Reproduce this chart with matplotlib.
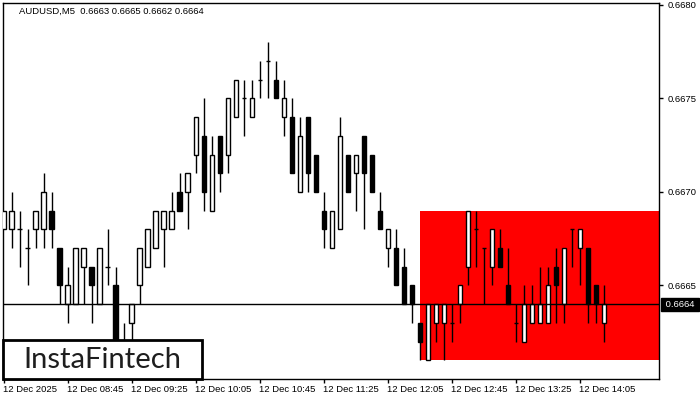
import numpy as np
import matplotlib
matplotlib.use("Agg")
from matplotlib import pyplot as plt
from matplotlib.patches import Rectangle
import matplotlib.transforms as mtransforms

# AUDUSD M5 candles, 08:05 .. 14:20
opens = [0.6668, 0.6668, 0.6668, 0.6667, 0.6668, 0.6668, 0.6669, 0.6667, 0.6664, 0.6664,
         0.6666, 0.6666, 0.6664, 0.6666, 0.6665, 0.6661, 0.6663, 0.6665, 0.6666, 0.6667,
         0.6668, 0.6668, 0.6670, 0.6670, 0.6672, 0.6673, 0.6669, 0.6673, 0.6672, 0.6674,
         0.6675, 0.6674, 0.6676, 0.6677, 0.6676, 0.6674, 0.6674, 0.6670, 0.6674, 0.6672,
         0.6669, 0.6667, 0.6668, 0.6672, 0.6671, 0.6673, 0.6672, 0.6669, 0.6667, 0.6667,
         0.6666, 0.6665, 0.6663, 0.6661, 0.6663, 0.6663, 0.6663, 0.6664, 0.6666, 0.6668,
         0.6667, 0.6666, 0.6667, 0.6665, 0.6663, 0.6662, 0.6663, 0.6663, 0.6663, 0.6666,
         0.6664, 0.6668, 0.6667, 0.6667, 0.6665, 0.6663]
closes = [0.6669, 0.6669, 0.6668, 0.6667, 0.6669, 0.6670, 0.6668, 0.6665, 0.6665, 0.6667,
          0.6667, 0.6665, 0.6667, 0.6666, 0.6662, 0.6660, 0.6664, 0.6667, 0.6668, 0.6669,
          0.6669, 0.6669, 0.6669, 0.6671, 0.6674, 0.6670, 0.6672, 0.6671, 0.6675, 0.6676,
          0.6675, 0.6675, 0.6676, 0.6677, 0.6675, 0.6675, 0.6671, 0.6673, 0.6671, 0.6670,
          0.6668, 0.6669, 0.6673, 0.6670, 0.6672, 0.6671, 0.6670, 0.6668, 0.6668, 0.6665,
          0.6664, 0.6664, 0.6662, 0.6664, 0.6664, 0.6664, 0.6663, 0.6665, 0.6669, 0.6668,
          0.6667, 0.6668, 0.6666, 0.6664, 0.6663, 0.6664, 0.6664, 0.6664, 0.6665, 0.6665,
          0.6667, 0.6668, 0.6668, 0.6664, 0.6664, 0.6664]
highs = [0.6669, 0.6670, 0.6669, 0.6668, 0.6669, 0.6671, 0.6670, 0.6667, 0.6666, 0.6667,
         0.6667, 0.6666, 0.6667, 0.6668, 0.6666, 0.6663, 0.6664, 0.6667, 0.6668, 0.6669,
         0.6669, 0.6670, 0.6671, 0.6671, 0.6674, 0.6675, 0.6673, 0.6673, 0.6675, 0.6676,
         0.6676, 0.6676, 0.6677, 0.6678, 0.6677, 0.6676, 0.6675, 0.6674, 0.6674, 0.6672,
         0.6670, 0.6669, 0.6674, 0.6672, 0.6672, 0.6673, 0.6672, 0.6670, 0.6668, 0.6668,
         0.6667, 0.6665, 0.6663, 0.6664, 0.6664, 0.6664, 0.6664, 0.6665, 0.6669, 0.6669,
         0.6667, 0.6668, 0.6668, 0.6667, 0.6664, 0.6665, 0.6665, 0.6666, 0.6666, 0.6667,
         0.6667, 0.6668, 0.6668, 0.6667, 0.6665, 0.6665]
lows = [0.6668, 0.6667, 0.6666, 0.6665, 0.6667, 0.6667, 0.6667, 0.6664, 0.6663, 0.6664,
        0.6664, 0.6663, 0.6664, 0.6665, 0.6661, 0.6660, 0.6661, 0.6664, 0.6666, 0.6667,
        0.6666, 0.6668, 0.6669, 0.6668, 0.6671, 0.6669, 0.6669, 0.6670, 0.6671, 0.6674,
        0.6673, 0.6674, 0.6675, 0.6675, 0.6675, 0.6673, 0.6671, 0.6670, 0.6670, 0.6670,
        0.6667, 0.6667, 0.6668, 0.6670, 0.6669, 0.6668, 0.6670, 0.6668, 0.6666, 0.6665,
        0.6664, 0.6663, 0.6661, 0.6661, 0.6662, 0.6661, 0.6662, 0.6663, 0.6665, 0.6666,
        0.6664, 0.6665, 0.6666, 0.6664, 0.6662, 0.6662, 0.6663, 0.6663, 0.6663, 0.6663,
        0.6663, 0.6666, 0.6665, 0.6663, 0.6663, 0.6662]

tick_pos = [0, 8, 16, 24, 32, 40, 48, 56, 64, 72]
tick_labels = ["12 Dec 2025", "12 Dec 08:45", "12 Dec 09:25", "12 Dec 10:05", "12 Dec 10:45",
               "12 Dec 11:25", "12 Dec 12:05", "12 Dec 12:45", "12 Dec 13:25", "12 Dec 14:05"]
price_ticks = [0.6665, 0.6670, 0.6675, 0.6680]

zone_start = 52
zone_low, zone_high = 0.6661, 0.6669
last_price = 0.6664
title = "AUDUSD,M5  0.6663 0.6665 0.6662 0.6664"

plt.rcParams['font.family'] = ['Liberation Sans', 'DejaVu Sans']
fs = 6.8

fig = plt.figure(figsize=(7, 4), dpi=100)
ax = fig.add_axes([2.7 / 700, 21 / 400, (659 - 2.7) / 700, 376 / 400])

x = np.arange(len(opens))
o = np.array(opens); c = np.array(closes); h = np.array(highs); l = np.array(lows)
xmax = 81.9

# red zone
ax.add_patch(Rectangle((zone_start, zone_low), xmax - zone_start + 1, zone_high - zone_low,
                       facecolor="#ff0000", edgecolor="none", zorder=1))

# candles
w = 0.55
ax.vlines(x, l, h, color="black", lw=1, zorder=2)
up = c > o + 1e-9
dn = c < o - 1e-9
dj = ~(up | dn)
ax.bar(x[up], c[up] - o[up], bottom=o[up], width=w, facecolor="white",
       edgecolor="black", lw=1, zorder=3)
ax.bar(x[dn], o[dn] - c[dn], bottom=c[dn], width=w, facecolor="black",
       edgecolor="black", lw=1, zorder=3)
ax.hlines(o[dj], x[dj] - w / 2, x[dj] + w / 2, color="black", lw=1, zorder=3)

ax.axhline(last_price, color="black", lw=1, zorder=4)

ax.set_xlim(-0.12, xmax)
ax.set_ylim(0.66600, 0.66801)

ax.set_xticks(tick_pos)
ax.set_xticklabels(tick_labels, ha="left", fontsize=fs)
ax.tick_params(axis="x", direction="out", length=3, pad=1, width=1)
for lab in ax.get_xticklabels():
    lab.set_transform(lab.get_transform() + mtransforms.ScaledTranslation(-1 / 100, 0, fig.dpi_scale_trans))

ax.yaxis.tick_right()
ax.set_yticks(price_ticks)
ax.set_yticklabels([f"{p:.4f}" for p in price_ticks], fontsize=fs)
ax.tick_params(axis="y", direction="out", length=3, pad=3, width=1)

for s in ax.spines.values():
    s.set_color("black")
    s.set_linewidth(1)

# current price tag
trans = mtransforms.blended_transform_factory(ax.transAxes, ax.transData)
ax.text(1.006, last_price, " 0.6664 ", transform=trans, fontsize=fs, color="white",
        va="center", ha="left", clip_on=False, zorder=6,
        bbox=dict(boxstyle="square,pad=0.2", facecolor="black", edgecolor="black"))

fig.text(19 / 700, 1 - 11 / 400, title, fontsize=fs, va="center", ha="left", color="black")

# logo
fig.add_artist(Rectangle((2.7 / 700, 21 / 400), 199 / 700, 39 / 400, transform=fig.transFigure,
                         facecolor="white", edgecolor="black", lw=2, zorder=5))
fig.text(102 / 700, 1 - 360 / 400, "InstaFintech", fontsize=21, family="Lato",
         color="#1e1e1e", ha="center", va="center", zorder=6)

fig.savefig("out.png", dpi=100, facecolor="white")
